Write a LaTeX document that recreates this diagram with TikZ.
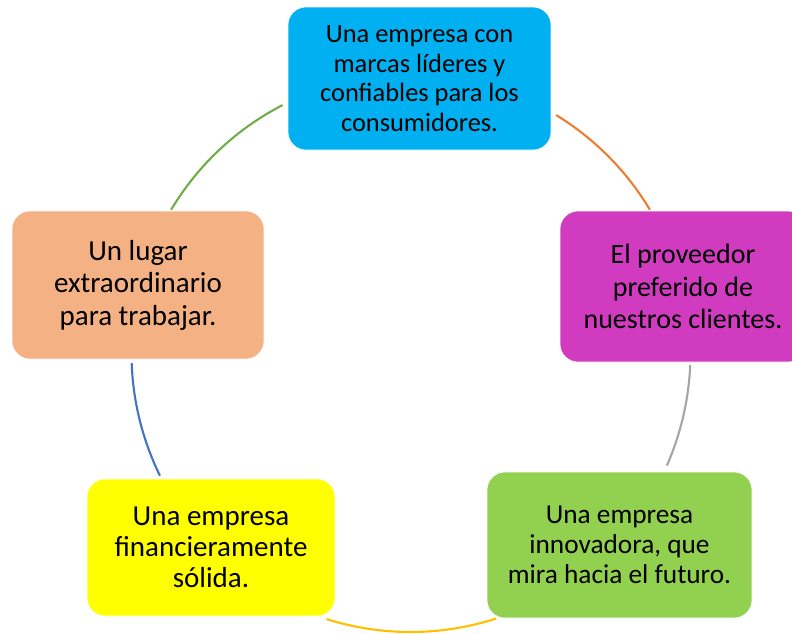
\documentclass[tikz,border=0pt]{standalone}
\usepackage{fontspec}
\setmainfont{Carlito}
\definecolor{cyanbox}{HTML}{00B0F0}
\definecolor{magbox}{HTML}{D13BC0}
\definecolor{orgbox}{HTML}{F4B183}
\definecolor{ylwbox}{HTML}{FFFF00}
\definecolor{grnbox}{HTML}{92D050}
\definecolor{arcgreen}{HTML}{70AD47}
\definecolor{arcorange}{HTML}{ED7D31}
\definecolor{arcgray}{HTML}{A5A5A5}
\definecolor{arcyellow}{HTML}{FFC000}
\definecolor{arcblue}{HTML}{4472C4}
\tikzset{
  cyclebox/.style={rounded corners=18pt, draw=white, line width=0.6pt, inner sep=0pt, align=center, text=black},
  cyclearc/.style={line width=2.1pt}
}
\begin{document}
\begin{tikzpicture}[x=1pt,y=-1pt]
\useasboundingbox (0,0) rectangle (792,633);
\clip (0,0) rectangle (792,633);
\fill[white] (0,0) rectangle (792,633);
\coordinate (ctr) at (410.5,353);
% boxes
\node[cyclebox, fill=cyanbox, minimum width=263pt, minimum height=143pt, font={\fontsize{26.4}{29.7}\selectfont}] (top) at (419.5,78.5)
  {Una empresa con\\marcas líderes y\\confiables para los\\consumidores.};
\node[cyclebox, fill=magbox, minimum width=246pt, minimum height=151pt, font={\fontsize{28}{32.5}\selectfont}] (right) at (683,286.5)
  {El proveedor\\preferido de\\nuestros clientes.};
\node[cyclebox, fill=grnbox, minimum width=265pt, minimum height=146pt, font={\fontsize{27.3}{30}\selectfont}] (bright) at (619.5,545)
  {Una empresa\\innovadora, que\\mira hacia el futuro.};
\node[cyclebox, fill=ylwbox, minimum width=248pt, minimum height=137pt, font={\fontsize{29}{31}\selectfont}] (bleft) at (211,547.5)
  {Una empresa\\financieramente\\sólida.};
\node[cyclebox, fill=orgbox, minimum width=252pt, minimum height=148pt, font={\fontsize{29}{32.5}\selectfont}] (left) at (138,285)
  {Un lugar\\extraordinario\\para trabajar.};
% arcs between boxes
\coordinate (g1) at ([shift={(-117.3:279)}]ctr);
\coordinate (o1) at ([shift={(-58.5:279)}]ctr);
\coordinate (r1) at ([shift={(2.5:280)}]ctr);
\coordinate (y1) at ([shift={(72.1:279)}]ctr);
\coordinate (b1) at ([shift={(153.9:279)}]ctr);
\draw[cyclearc, arcgreen] (g1) arc[start angle=-117.3, end angle=-149.1, radius=279];
\draw[cyclearc, arcorange] (o1) arc[start angle=-58.5, end angle=-30.9, radius=279];
\draw[cyclearc, arcgray] (r1) arc[start angle=2.5, end angle=23.7, radius=280];
\draw[cyclearc, arcyellow] (y1) arc[start angle=72.1, end angle=107.5, radius=279];
\draw[cyclearc, arcblue] (b1) arc[start angle=153.9, end angle=177.9, radius=279];
\end{tikzpicture}
\end{document}
